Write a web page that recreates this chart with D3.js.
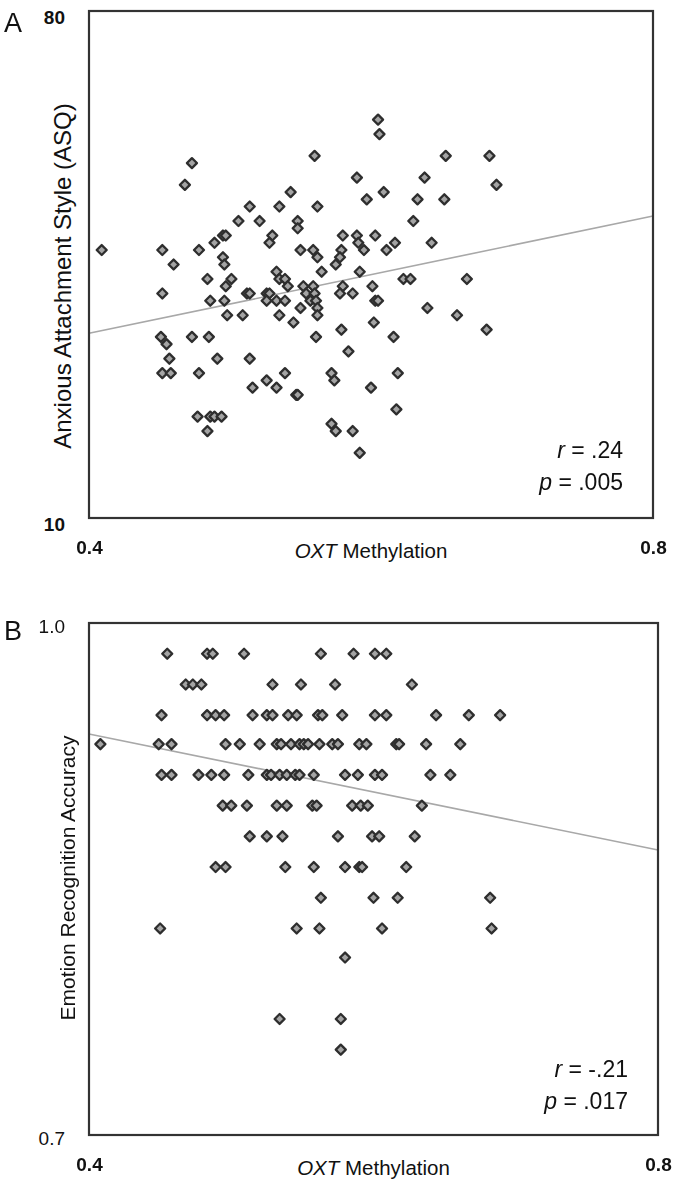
<!DOCTYPE html>
<html>
<head>
<meta charset="utf-8">
<script src="https://cdn.jsdelivr.net/npm/d3@7"></script>
<style>
  body { margin: 0; background: #fff; }
  svg { display: block; font-family: "Liberation Sans", Arial, sans-serif; }
</style>
</head>
<body>
<div id="chart"></div>
<script>
// Panel A: OXT methylation vs anxious attachment (ASQ)
const asqMethylation = [
  0.605, 0.606, 0.473, 0.560, 0.468, 0.590, 0.543, 0.597, 0.514, 0.535,
  0.562, 0.506, 0.521, 0.548, 0.548, 0.489, 0.495, 0.497, 0.530, 0.528,
  0.580, 0.590, 0.591, 0.603, 0.409, 0.452, 0.478, 0.550, 0.559, 0.562,
  0.579, 0.578, 0.575, 0.595, 0.495, 0.496, 0.460, 0.533, 0.535, 0.539,
  0.541, 0.565, 0.592, 0.484, 0.501, 0.497, 0.552, 0.559, 0.554, 0.560,
  0.580, 0.601, 0.452, 0.512, 0.514, 0.526, 0.528, 0.578, 0.587, 0.486,
  0.496, 0.526, 0.533, 0.539, 0.557, 0.561, 0.603, 0.605, 0.550, 0.562,
  0.498, 0.509, 0.535, 0.562, 0.545, 0.602, 0.579, 0.451, 0.473, 0.485,
  0.561, 0.455, 0.457, 0.491, 0.514, 0.584, 0.452, 0.458, 0.478, 0.539,
  0.572, 0.574, 0.516, 0.526, 0.533, 0.547, 0.548, 0.600, 0.477, 0.486,
  0.489, 0.494, 0.484, 0.572, 0.575, 0.587, 0.592, 0.653, 0.684, 0.638,
  0.689, 0.609, 0.633, 0.652, 0.630, 0.617, 0.611, 0.643, 0.623, 0.628,
  0.668, 0.640, 0.661, 0.616, 0.682, 0.619, 0.618
];
const asqScore = [
  65, 63, 59, 60, 56, 57, 55, 54, 53, 53,
  53, 51, 51, 51, 50, 48, 49, 49, 49, 48,
  49, 49, 48, 49, 47, 47, 47, 47, 47, 46,
  47, 46, 45, 47, 46, 45, 45, 44, 43, 43,
  42, 44, 44, 43, 43, 42, 42, 42, 41, 41,
  42, 42, 41, 41, 41, 41, 41, 41, 41, 40,
  40, 40, 40, 40, 40, 40, 40, 40, 39, 39,
  38, 38, 38, 38, 37, 37, 36, 35, 35, 35,
  35, 34, 32, 32, 32, 33, 30, 30, 30, 30,
  30, 29, 28, 29, 28, 27, 27, 28, 24, 24,
  24, 24, 22, 23, 22, 22, 19, 60, 60, 57,
  56, 55, 54, 54, 51, 48, 47, 48, 43, 43,
  43, 39, 38, 35, 36, 30, 25
];
const asqFit = [35.5, 51.7];          // fitted ASQ at 0.4 and 0.8
const asqStats = ["r = .24", "p = .005"];

// Panel B: OXT methylation vs emotion recognition accuracy (rows of equal accuracy)
const accuracyLevels = [0.982, 0.964, 0.946, 0.929, 0.911, 0.893, 0.875, 0.857, 0.839, 0.821, 0.804, 0.768, 0.750];
const methylationByLevel = [
  [0.455, 0.483, 0.487, 0.509, 0.563, 0.586, 0.601, 0.609],
  [0.468, 0.473, 0.479, 0.529, 0.549, 0.573, 0.627],
  [0.451, 0.483, 0.489, 0.495, 0.515, 0.525, 0.529, 0.540, 0.546, 0.561, 0.564, 0.578, 0.601, 0.609, 0.644, 0.667, 0.689],
  [0.408, 0.449, 0.458, 0.496, 0.506, 0.520, 0.532, 0.535, 0.542, 0.548, 0.551, 0.554, 0.562, 0.571, 0.575, 0.590, 0.595, 0.616, 0.618, 0.637, 0.661],
  [0.451, 0.458, 0.477, 0.486, 0.495, 0.512, 0.525, 0.528, 0.534, 0.539, 0.545, 0.548, 0.558, 0.580, 0.589, 0.601, 0.606, 0.640, 0.654],
  [0.494, 0.500, 0.511, 0.532, 0.539, 0.557, 0.560, 0.585, 0.591, 0.596, 0.634],
  [0.513, 0.525, 0.536, 0.575, 0.599, 0.604, 0.629],
  [0.489, 0.496, 0.538, 0.558, 0.580, 0.590, 0.592, 0.623],
  [0.563, 0.600, 0.617, 0.682],
  [0.450, 0.546, 0.562, 0.606, 0.683],
  [0.580],
  [0.534, 0.577],
  [0.577]
];
const emoFit = [0.935, 0.867];        // fitted accuracy at 0.4 and 0.8
const emoStats = ["r = -.21", "p = .017"];

const xTicks = [0.4, 0.8];

const svg = d3.select("#chart").append("svg")
  .attr("width", 677)
  .attr("height", 1181);

const defs = svg.append("defs");
defs.append("filter").attr("id", "soft")
  .append("feGaussianBlur").attr("stdDeviation", 0.5);

const marker = d3.symbol(d3.symbolSquare, 50)();

function drawPanel(cfg) {
  const x = d3.scaleLinear().domain([0.4, 0.8]).range([cfg.left, cfg.right]);
  const y = d3.scaleLinear().domain(cfg.yDomain).range([cfg.bottom, cfg.top]);
  const g = svg.append("g");

  // regression line
  g.append("line")
    .attr("x1", x(0.4)).attr("y1", y(cfg.fit[0]))
    .attr("x2", x(0.8)).attr("y2", y(cfg.fit[1]))
    .attr("stroke", "#a8a8a8")
    .attr("stroke-width", 1.6);

  // points
  g.append("g").attr("filter", "url(#soft)")
    .selectAll("path")
    .data(cfg.points)
    .join("path")
      .attr("d", marker)
      .attr("transform", d => `translate(${x(d[0])},${y(d[1])}) rotate(45)`)
      .attr("fill", "#a4a4a4")
      .attr("stroke", "#2e2e2e")
      .attr("stroke-width", 2.3)
      .attr("stroke-linejoin", "round");

  // frame
  g.append("rect")
    .attr("x", cfg.left).attr("y", cfg.top)
    .attr("width", cfg.right - cfg.left)
    .attr("height", cfg.bottom - cfg.top)
    .attr("fill", "none")
    .attr("stroke", "#333")
    .attr("stroke-width", 2.2);

  // axes: only the end values are labelled
  const yAxis = g.append("g")
    .attr("transform", `translate(${cfg.left},0)`)
    .call(d3.axisLeft(y).tickValues(cfg.yDomain).tickSize(0).tickPadding(24)
      .tickFormat(cfg.yFormat));
  yAxis.select(".domain").remove();
  yAxis.selectAll("text")
    .attr("dy", "0.32em")
    .attr("transform", `translate(0,${cfg.yShift})`)
    .style("font-size", "19px")
    .style("font-weight", cfg.yBold ? "bold" : "normal")
    .style("font-family", "'Liberation Sans', Arial, sans-serif")
    .attr("fill", "#111");

  const xAxis = g.append("g")
    .attr("transform", `translate(0,${cfg.bottom})`)
    .call(d3.axisBottom(x).tickValues(xTicks).tickSize(0).tickPadding(23)
      .tickFormat(d3.format(".1f")));
  xAxis.select(".domain").remove();
  xAxis.selectAll("text")
    .style("font-size", "19px")
    .style("font-weight", "bold")
    .style("font-family", "'Liberation Sans', Arial, sans-serif")
    .attr("fill", "#111");

  // x axis title
  const xt = g.append("text")
    .attr("x", (cfg.left + cfg.right) / 2)
    .attr("y", cfg.bottom + 40)
    .attr("text-anchor", "middle")
    .style("font-size", "20.5px")
    .attr("fill", "#111");
  xt.append("tspan").style("font-style", "italic").text("OXT");
  xt.append("tspan").text(" Methylation");

  // y axis title
  g.append("text")
    .attr("transform", `translate(${cfg.yTitleX},${cfg.yTitleY}) rotate(-90)`)
    .attr("text-anchor", "middle")
    .style("font-size", cfg.yTitleSize + "px")
    .attr("fill", "#111")
    .text(cfg.yTitle);

  // stats
  cfg.stats.forEach((s, i) => {
    const t = g.append("text")
      .attr("x", cfg.statsX)
      .attr("y", cfg.statsY + i * 32)
      .attr("text-anchor", "end")
      .style("font-size", "23px")
      .attr("fill", "#111");
    t.append("tspan").style("font-style", "italic").text(s.slice(0, 1));
    t.append("tspan").text(s.slice(1));
  });

  // panel letter
  g.append("text")
    .attr("x", 4)
    .attr("y", cfg.top + cfg.letterDy)
    .style("font-size", "27px")
    .attr("fill", "#111")
    .text(cfg.letter);
}

drawPanel({
  letter: "A", letterDy: 21,
  left: 89, right: 653, top: 11, bottom: 518,
  yDomain: [10, 80], yFormat: d3.format("d"), yShift: 6, yBold: true,
  points: asqMethylation.map((m, i) => [m, asqScore[i]]),
  fit: asqFit,
  yTitle: "Anxious Attachment Style (ASQ)", yTitleX: 71, yTitleY: 276, yTitleSize: 24,
  stats: asqStats, statsX: 623, statsY: 458
});

drawPanel({
  letter: "B", letterDy: 17,
  left: 89, right: 658, top: 623, bottom: 1135,
  yDomain: [0.7, 1.0], yFormat: d3.format(".1f"), yShift: 3, yBold: false,
  points: accuracyLevels.flatMap((a, i) => methylationByLevel[i].map(m => [m, a])),
  fit: emoFit,
  yTitle: "Emotion Recognition Accuracy", yTitleX: 75, yTitleY: 878, yTitleSize: 21,
  stats: emoStats, statsX: 628, statsY: 1077
});
</script>
</body>
</html>
